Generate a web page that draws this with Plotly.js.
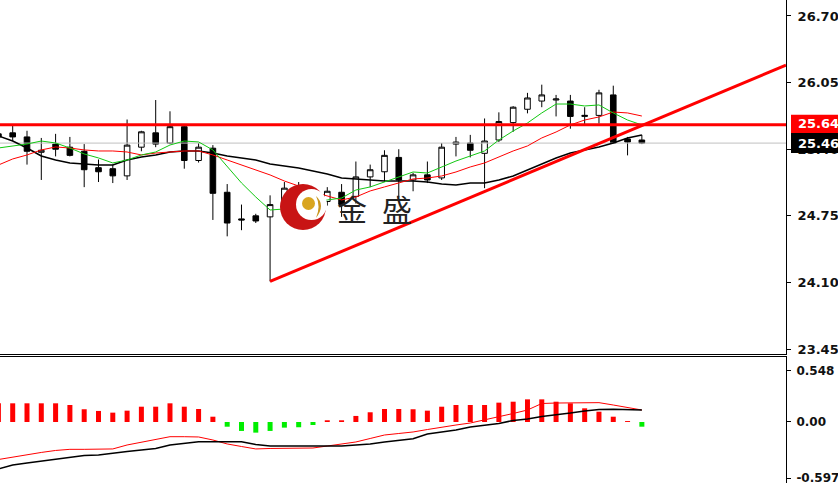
<!DOCTYPE html>
<html><head><meta charset="utf-8">
<script src="https://cdn.plot.ly/plotly-3.0.1.min.js"></script>
<style>html,body{margin:0;padding:0;background:#fff}#c{width:838px;height:483px}</style>
</head><body><div id="c"></div>
<script>
// ---- price candles (bar index 0..45) ----
const opens  = [25.55,25.56,25.52,25.37,25.45,25.42,25.38,25.22,25.21,25.14,25.42,25.56,25.46,25.62,25.29,25.41,24.98,24.72,24.75,24.74,24.90,25.00,24.86,24.89,24.98,24.94,25.13,25.18,25.32,25.10,25.15,25.12,25.45,25.46,25.36,25.49,25.66,25.79,25.87,25.88,25.87,25.72,25.73,25.93,25.50,25.49];
const highs  = [25.60,25.63,25.58,25.51,25.55,25.52,25.45,25.30,25.25,25.69,25.58,25.88,25.77,25.63,25.46,25.44,25.06,24.86,24.77,24.95,25.08,25.08,25.00,25.03,25.06,25.28,25.25,25.39,25.40,25.17,25.28,25.46,25.52,25.54,25.70,25.76,25.82,25.95,26.03,25.93,25.93,25.81,25.98,26.02,25.52,25.54];
const lows   = [25.48,25.48,25.25,25.10,25.33,25.33,25.03,25.08,25.07,25.10,25.38,25.42,25.45,25.21,25.27,24.71,24.55,24.61,24.68,24.11,24.85,24.85,24.78,24.85,24.74,24.87,25.03,25.08,24.93,24.99,25.07,25.10,25.33,25.32,25.02,25.47,25.57,25.75,25.81,25.72,25.60,25.64,25.65,25.46,25.34,25.45];
const closes = [25.52,25.52,25.38,25.39,25.40,25.34,25.20,25.18,25.14,25.44,25.57,25.45,25.62,25.29,25.42,24.97,24.68,24.71,24.70,24.86,25.02,24.92,24.95,24.99,24.86,25.13,25.20,25.34,25.10,25.15,25.10,25.42,25.47,25.39,25.48,25.67,25.81,25.90,25.93,25.89,25.72,25.73,25.95,25.46,25.47,25.46];
// ---- moving-average style lines ----
const maGreen = [25.412,25.432,25.451,25.480,25.461,25.412,25.354,25.315,25.266,25.295,25.344,25.373,25.441,25.480,25.471,25.393,25.227,25.071,24.934,24.807,24.817,24.856,24.876,24.905,24.924,25.002,25.032,25.080,25.129,25.178,25.168,25.227,25.285,25.334,25.383,25.490,25.578,25.656,25.754,25.841,25.841,25.822,25.832,25.754,25.685,25.637];
const maRed   = [25.246,25.305,25.344,25.393,25.422,25.412,25.393,25.383,25.383,25.373,25.344,25.363,25.373,25.383,25.383,25.344,25.295,25.246,25.198,25.149,25.090,25.041,24.983,24.944,24.905,24.934,24.993,25.032,25.071,25.110,25.119,25.139,25.178,25.227,25.266,25.324,25.383,25.432,25.510,25.568,25.637,25.685,25.715,25.763,25.754,25.724];
const maBlack = [25.529,25.480,25.412,25.334,25.295,25.266,25.256,25.246,25.246,25.295,25.324,25.344,25.373,25.383,25.383,25.363,25.334,25.315,25.295,25.256,25.237,25.217,25.188,25.159,25.119,25.110,25.100,25.090,25.090,25.090,25.080,25.061,25.051,25.071,25.071,25.100,25.139,25.198,25.256,25.315,25.363,25.393,25.422,25.461,25.510,25.539];
// ---- drawn objects ----
const resistance = 25.64;
const lastPrice = 25.46;
const trendX = [19, 55.08];
const trendY = [24.11, 26.22];
// ---- MACD panel ----
const hist = [0.198,0.198,0.198,0.198,0.198,0.180,0.135,0.117,0.099,0.120,0.162,0.162,0.198,0.162,0.138,0.056,-0.050,-0.095,-0.113,-0.095,-0.060,-0.056,-0.032,0.018,0.018,0.064,0.103,0.138,0.138,0.135,0.120,0.162,0.180,0.180,0.180,0.205,0.215,0.240,0.240,0.215,0.198,0.145,0.109,0.056,0.010,-0.050];
const macdRed = [-0.398,-0.371,-0.345,-0.323,-0.302,-0.290,-0.290,-0.290,-0.286,-0.244,-0.212,-0.186,-0.156,-0.156,-0.159,-0.191,-0.233,-0.260,-0.286,-0.281,-0.279,-0.279,-0.276,-0.255,-0.233,-0.212,-0.175,-0.138,-0.122,-0.106,-0.080,-0.053,-0.032,-0.011,0.021,0.053,0.090,0.127,0.196,0.201,0.201,0.201,0.205,0.180,0.154,0.127];
const macdBlack = [-0.498,-0.456,-0.435,-0.414,-0.392,-0.371,-0.355,-0.350,-0.329,-0.313,-0.297,-0.281,-0.244,-0.228,-0.209,-0.209,-0.209,-0.209,-0.239,-0.255,-0.255,-0.255,-0.255,-0.255,-0.255,-0.244,-0.233,-0.212,-0.196,-0.177,-0.127,-0.106,-0.085,-0.053,-0.032,-0.016,0.016,0.032,0.058,0.074,0.095,0.117,0.133,0.135,0.133,0.127];
// ---- axis ticks ----
const priceTicks = [26.70, 26.05, 25.40, 24.75, 24.10, 23.45];
const macdTicks = [0.548, 0.00, -0.597];
const macdTickText = ['0.548', '0.00', '-0.597'];

const idx = closes.map((_, i) => i);
const font = 'DejaVu Sans, Verdana, sans-serif';

const traces = [
  {type:'scatter', mode:'lines', x:[idx[0]-1, 60], y:[lastPrice,lastPrice], line:{color:'#c0c0c0', width:1}, xaxis:'x', yaxis:'y', hoverinfo:'skip'},
  {type:'candlestick', x:idx, open:opens, high:highs, low:lows, close:closes, xaxis:'x', yaxis:'y',
   increasing:{line:{color:'#000', width:1}, fillcolor:'#ffffff'},
   decreasing:{line:{color:'#000', width:1}, fillcolor:'#000000'}},
  {type:'scatter', mode:'lines', x:idx, y:maBlack, line:{color:'#000', width:1.5}, xaxis:'x', yaxis:'y'},
  {type:'scatter', mode:'lines', x:idx, y:maRed, line:{color:'#ff0000', width:1}, xaxis:'x', yaxis:'y'},
  {type:'scatter', mode:'lines', x:idx, y:maGreen, line:{color:'#12c812', width:1}, xaxis:'x', yaxis:'y'},
  {type:'scatter', mode:'lines', x:[idx[0]-1, 60], y:[resistance,resistance], line:{color:'#ff0000', width:3}, xaxis:'x', yaxis:'y'},
  {type:'scatter', mode:'lines', x:trendX, y:trendY, line:{color:'#ff0000', width:3}, xaxis:'x', yaxis:'y'},
  {type:'bar', x:idx, y:hist, width:0.35, marker:{color:hist.map(v => v >= 0 ? '#ff0000' : '#00ee00')}, xaxis:'x2', yaxis:'y2'},
  {type:'scatter', mode:'lines', x:idx, y:macdRed, line:{color:'#ff0000', width:1}, xaxis:'x2', yaxis:'y2'},
  {type:'scatter', mode:'lines', x:idx, y:macdBlack, line:{color:'#000', width:1.5}, xaxis:'x2', yaxis:'y2'}
];

const W = 786, H = 483;
const px = v => v / W, py = v => 1 - v / H;

const layout = {
  width:838, height:483, margin:{l:0, r:52, t:0, b:0},
  paper_bgcolor:'#fff', plot_bgcolor:'#fff', showlegend:false, boxgap:0.44,
  font:{family:font, size:12, color:'#000'},
  xaxis:{domain:[0,1], range:[0.112, 55.08], showticklabels:false, showgrid:false, zeroline:false, ticks:'', showline:true, linecolor:'#000', linewidth:1, rangeslider:{visible:false}, anchor:'y'},
  yaxis:{domain:[(H-354)/H, 1], range:[23.402, 26.856], side:'right', tickvals:priceTicks, ticktext:priceTicks.map(v=>v.toFixed(2)), ticks:'outside', ticklen:4, tickcolor:'#000', ticklabelstandoff:4, ticklabeloverflow:'allow', showgrid:false, zeroline:false, showline:true, linecolor:'#000', linewidth:1, anchor:'x', tickfont:{family:font, size:13, color:'#111', weight:'bold'}},
  xaxis2:{domain:[0,1], range:[0.112, 55.08], showticklabels:false, showgrid:false, zeroline:false, ticks:'', showline:true, mirror:true, linecolor:'#000', linewidth:1, anchor:'y2', matches:'x'},
  yaxis2:{domain:[0, (H-357)/H], range:[-0.647, 0.689], side:'right', tickvals:macdTicks, ticktext:macdTickText, ticks:'outside', ticklen:4, tickcolor:'#000', ticklabelstandoff:3, ticklabeloverflow:'allow', showgrid:false, zeroline:false, showline:true, linecolor:'#000', linewidth:1, anchor:'x2', tickfont:{family:font, size:12, color:'#111', weight:'bold'}},
  shapes:[
    {type:'rect', xref:'paper', yref:'y', x0:px(791), x1:px(840), ysizemode:'pixel', yanchor:resistance, y0:-9, y1:10, fillcolor:'#ff0000', line:{width:0}},
    {type:'rect', xref:'paper', yref:'y', x0:px(791), x1:px(840), ysizemode:'pixel', yanchor:lastPrice, y0:-10, y1:10, fillcolor:'#000000', line:{width:0}},
    {type:'circle', xref:'paper', yref:'paper', x0:px(280), x1:px(326), y0:py(230), y1:py(184), fillcolor:'#c81414', line:{width:0}},
    {type:'circle', xref:'paper', yref:'paper', x0:px(296), x1:px(327), y0:py(220), y1:py(189), fillcolor:'#ffffff', line:{width:0}},
    {type:'circle', xref:'paper', yref:'paper', x0:px(302), x1:px(315), y0:py(210), y1:py(197), fillcolor:'#d9a520', line:{width:0}},
    {type:'path', xref:'paper', yref:'paper', path:`M ${px(316)} ${py(196)} Q ${px(326)} ${py(205)} ${px(316)} ${py(218)} Q ${px(321)} ${py(206)} ${px(316)} ${py(196)} Z`, fillcolor:'#c8961e', line:{width:0}}
  ],
  annotations:[
    {xref:'paper', yref:'y', x:px(797), y:resistance, xanchor:'left', yanchor:'middle', yshift:1, text:resistance.toFixed(2), showarrow:false, font:{family:font, size:13, color:'#fff', weight:'bold'}, borderpad:0},
    {xref:'paper', yref:'y', x:px(797), y:lastPrice, xanchor:'left', yanchor:'middle', text:lastPrice.toFixed(2), showarrow:false, font:{family:font, size:13, color:'#fff', weight:'bold'}, borderpad:0},
    {xref:'paper', yref:'paper', x:px(352), y:py(208), text:'金', showarrow:false, font:{family:'Noto Sans CJK SC', size:30, color:'#222'}},
    {xref:'paper', yref:'paper', x:px(397), y:py(208), text:'盛', showarrow:false, font:{family:'Noto Sans CJK SC', size:30, color:'#222'}}
  ]
};

Plotly.newPlot('c', traces, layout, {displayModeBar:false, staticPlot:true});
</script>
</body></html>
